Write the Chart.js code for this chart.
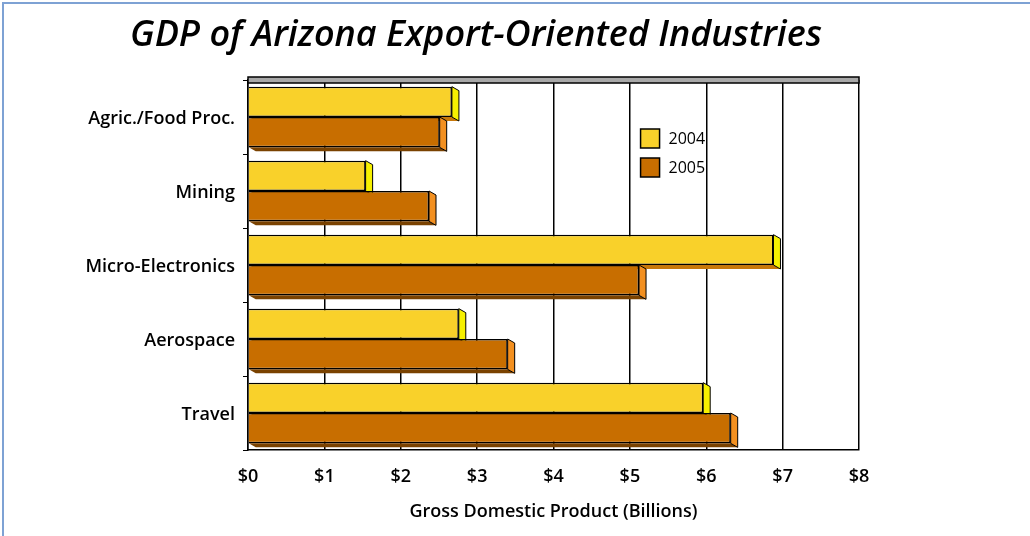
<!DOCTYPE html>
<html>
<head>
<meta charset="utf-8">
<script src="https://cdn.jsdelivr.net/npm/chart.js@4"></script>
<style>
  html, body { margin: 0; padding: 0; background: #fff; }
  #wrap { position: relative; width: 1030px; height: 536px; }
  #frame { position: absolute; left: 2px; top: 2px; right: 0; bottom: 0;
           border-top: 2px solid #7ea2d4; border-left: 2px solid #7ea2d4; pointer-events: none; }
  canvas { display: block; }
</style>
</head>
<body>
<div id="wrap">
  <canvas id="gdpChart" width="1030" height="536"></canvas>
  <div id="frame"></div>
</div>
<script>
const chartTitle = "GDP of Arizona Export-Oriented Industries";
const industries = ["Agric./Food Proc.", "Mining", "Micro-Electronics", "Aerospace", "Travel"];
const gdp2004 = [2.67, 1.54, 6.88, 2.76, 5.96];
const gdp2005 = [2.51, 2.37, 5.12, 3.40, 6.32];
const xTicks = ["$0", "$1", "$2", "$3", "$4", "$5", "$6", "$7", "$8"];

const faces = {
  "#f9d12a": { side: "#f6f000", bottom: "#c8780a" },
  "#c86e00": { side: "#f39020", bottom: "#7a4200" }
};

// side and bottom faces of each bar, drawn before the fronts
const bars3d = {
  id: "bars3d",
  beforeDatasetsDraw(chart) {
    const ctx = chart.ctx;
    const dx = 7, dy = 4;
    ctx.save();
    ctx.lineWidth = 1;
    ctx.strokeStyle = "#000";
    chart.data.datasets.forEach((ds, i) => {
      const f = faces[ds.backgroundColor];
      chart.getDatasetMeta(i).data.forEach(bar => {
        const top = bar.y - bar.height / 2, bottom = bar.y + bar.height / 2;
        ctx.fillStyle = f.bottom;
        ctx.beginPath();
        ctx.moveTo(bar.base, bottom);
        ctx.lineTo(bar.base + dx, bottom + dy);
        ctx.lineTo(bar.x + dx, bottom + dy);
        ctx.lineTo(bar.x, bottom);
        ctx.closePath();
        ctx.fill();
        ctx.fillStyle = f.side;
        ctx.beginPath();
        ctx.moveTo(bar.x, top);
        ctx.lineTo(bar.x + dx, top + dy);
        ctx.lineTo(bar.x + dx, bottom + dy);
        ctx.lineTo(bar.x, bottom);
        ctx.closePath();
        ctx.fill();
        ctx.stroke();
      });
    });
    ctx.restore();
  }
};

// gray top band of the 3D frame
const topBand = {
  id: "topBand",
  beforeDatasetsDraw(chart) {
    const { ctx, chartArea: a } = chart;
    ctx.save();
    ctx.fillStyle = "#a8a8a8";
    ctx.strokeStyle = "#000";
    ctx.lineWidth = 1.5;
    ctx.fillRect(a.left, a.top - 3, a.right - a.left, 6);
    ctx.strokeRect(a.left, a.top - 3, a.right - a.left, 6);
    ctx.restore();
  }
};

// title sits off-centre in the original, so draw it here
const offTitle = {
  id: "offTitle",
  afterDraw(chart) {
    const ctx = chart.ctx;
    ctx.save();
    ctx.font = "italic 600 36px 'Open Sans'";
    ctx.fillStyle = "#000";
    ctx.textAlign = "center";
    ctx.textBaseline = "middle";
    ctx.fillText(chartTitle, 476, 36);
    ctx.restore();
  }
};

const boxLegend = {
  id: "boxLegend",
  afterDraw(chart) {
    const ctx = chart.ctx;
    const x = chart.scales.x.getPixelForValue(5.14);
    ctx.save();
    ctx.font = "16px 'Open Sans'";
    ctx.textBaseline = "middle";
    chart.data.datasets.forEach((ds, i) => {
      const y = 129 + i * 29;
      ctx.fillStyle = ds.backgroundColor;
      ctx.fillRect(x, y, 19, 19);
      ctx.lineWidth = 1.5;
      ctx.strokeStyle = "#000";
      ctx.strokeRect(x, y, 19, 19);
      ctx.fillStyle = "#000";
      ctx.fillText(ds.label, x + 28, y + 10);
    });
    ctx.restore();
  }
};

new Chart(document.getElementById("gdpChart"), {
  type: "bar",
  data: {
    labels: industries,
    datasets: [
      { label: "2004", data: gdp2004, backgroundColor: "#f9d12a", borderColor: "#000", borderWidth: 1.5 },
      { label: "2005", data: gdp2005, backgroundColor: "#c86e00", borderColor: "#000", borderWidth: 1.5 }
    ]
  },
  options: {
    indexAxis: "y",
    responsive: false,
    animation: false,
    categoryPercentage: 0.82,
    barPercentage: 1.0,
    layout: { padding: { left: 0, right: 171, top: 80, bottom: 0 } },
    plugins: {
      legend: { display: false },
      tooltip: { enabled: false },
      title: { display: false }
    },
    scales: {
      x: {
        min: 0, max: 8,
        afterFit: s => { s.height = 86; },
        afterBuildTicks: s => { s.ticks = xTicks.map((t, i) => ({ value: i })); },
        grid: { color: "#000", lineWidth: 1.5, drawTicks: false },
        border: { color: "#000", width: 1.5 },
        ticks: {
          color: "#000",
          padding: 16,
          font: { family: "Open Sans", size: 18, weight: 600 },
          callback: (v, i) => xTicks[i]
        },
        title: {
          display: true,
          text: "Gross Domestic Product (Billions)",
          color: "#000",
          font: { family: "Open Sans", size: 18, weight: 600 },
          padding: { top: 4, bottom: 13 }
        }
      },
      y: {
        afterFit: s => { s.width = 248; },
        grid: { drawOnChartArea: false, color: "#000", tickLength: 5 },
        border: { color: "#000", width: 1.5 },
        ticks: {
          color: "#000",
          padding: 8,
          labelOffset: 2,
          font: { family: "Open Sans", size: 18, weight: 600 }
        }
      }
    }
  },
  plugins: [topBand, bars3d, boxLegend, offTitle]
});
</script>
</body>
</html>
